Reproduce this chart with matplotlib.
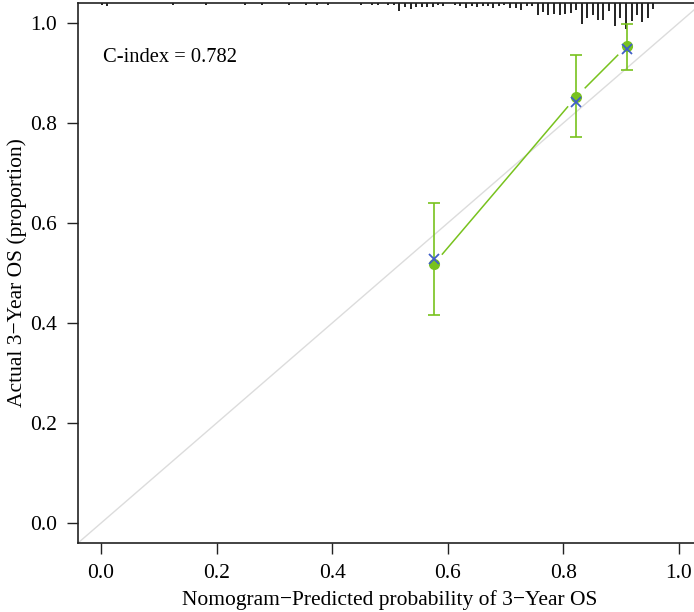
import numpy as np
import matplotlib
matplotlib.use("Agg")
import matplotlib.pyplot as plt

plt.rcParams['font.family'] = ['Liberation Serif', 'DejaVu Serif']

# Calibration curve for the 3-year OS nomogram
pred_mean = [0.576, 0.822, 0.910]      # mean predicted probability per group
obs_km = [0.518, 0.852, 0.954]         # observed (KM) survival
obs_lower = [0.416, 0.772, 0.907]
obs_upper = [0.640, 0.937, 0.998]
obs_corrected = [0.528, 0.842, 0.948]  # bias-corrected estimate (blue x)

c_index = 0.782

# spike histogram of predicted risks along the top
rug_x = [0.001, 0.010, 0.125, 0.182, 0.249, 0.279, 0.325, 0.355, 0.374, 0.393,
         0.450, 0.469, 0.479, 0.497, 0.507,
         0.516, 0.526, 0.536, 0.545, 0.555, 0.564, 0.574, 0.583, 0.592,
         0.612, 0.621, 0.631, 0.642, 0.651, 0.661, 0.670, 0.678, 0.689,
         0.697, 0.708, 0.718, 0.727, 0.737, 0.746, 0.756, 0.765, 0.773,
         0.784, 0.794, 0.803, 0.813, 0.822, 0.832, 0.841, 0.851, 0.860,
         0.869, 0.879, 0.889, 0.898, 0.908, 0.918, 0.927, 0.936, 0.946, 0.955]
rug_freq = [1.5, 3, 1.5, 1.5, 1.5, 1.5, 1.5, 1.5, 1.5, 1.5,
            1.5, 1.5, 1.5, 1.5, 1.5,
            8, 4, 6, 4, 4, 4, 4, 2, 3,
            2, 3, 5, 3, 4, 3, 2.7, 5, 2.7,
            1.7, 5, 5, 6.7, 2.7, 2.7, 11.7, 8.7, 11.7,
            11, 11.7, 11, 10, 6.7, 21, 15, 11.7, 16.7,
            16.7, 8.3, 22.7, 15, 26, 17.7, 11.7, 19.3, 15, 6]

green = '#78C21E'
blue = '#3F5FC8'
dark = '#222222'

if __name__ == "__main__":
    fig = plt.figure(figsize=(6.94, 6.12), dpi=100)
    ax = fig.add_axes([78 / 694, 69 / 612, 624 / 694, 540 / 612])
    ax.set_xlim(-0.04, 1.04)
    ax.set_ylim(-0.04, 1.04)

    # ideal line
    ax.axline((0, 0), slope=1, color='#DCDCDC', lw=1.0, zorder=1)

    # spikes hanging from the top
    top = ax.get_ylim()[1]
    h = np.array(rug_freq) * 0.002
    ax.vlines(rug_x, top - h, top, color='#111111', lw=1.3, zorder=2)

    # connecting line with gaps around the points (type = "b")
    fig.canvas.draw()
    pts = ax.transData.transform(np.column_stack([pred_mean, obs_km]))
    gap = 13
    inv = ax.transData.inverted()
    for p0, p1 in zip(pts[:-1], pts[1:]):
        d = p1 - p0
        u = d / np.hypot(*d)
        seg = inv.transform(np.array([p0 + u * gap, p1 - u * gap]))
        ax.plot(seg[:, 0], seg[:, 1], color=green, lw=1.1, zorder=3)

    # error bars
    yerr = [np.array(obs_km) - np.array(obs_lower),
            np.array(obs_upper) - np.array(obs_km)]
    ax.errorbar(pred_mean, obs_km, yerr=yerr, fmt='none', ecolor=green,
                elinewidth=1.2, capsize=4.5, capthick=1.2, zorder=3)
    ax.plot(pred_mean, obs_km, 'o', color=green, ms=7, zorder=4)
    ax.plot(pred_mean, obs_corrected, 'x', color=blue, ms=7, mew=1.3, zorder=5)

    ax.text(0.003, 0.932, "C-index = %.3f" % c_index, fontsize=14.8,
            ha='left', va='center')

    ticks = [0.0, 0.2, 0.4, 0.6, 0.8, 1.0]
    ax.set_xticks(ticks)
    ax.set_yticks(ticks)
    ax.set_xticklabels(["%.1f" % t for t in ticks])
    ax.set_yticklabels(["%.1f" % t for t in ticks])
    ax.tick_params(direction='out', length=8, width=1.0, color=dark,
                   labelsize=15.5, pad=7)
    for s in ax.spines.values():
        s.set_color(dark)
        s.set_linewidth(1.2)

    ax.set_xlabel("Nomogram\u2212Predicted probability of 3\u2212Year OS",
                  fontsize=15.5, labelpad=5)
    ax.set_ylabel("Actual 3\u2212Year OS (proportion)", fontsize=15.5, labelpad=2)

    fig.savefig("out.png", dpi=100)
